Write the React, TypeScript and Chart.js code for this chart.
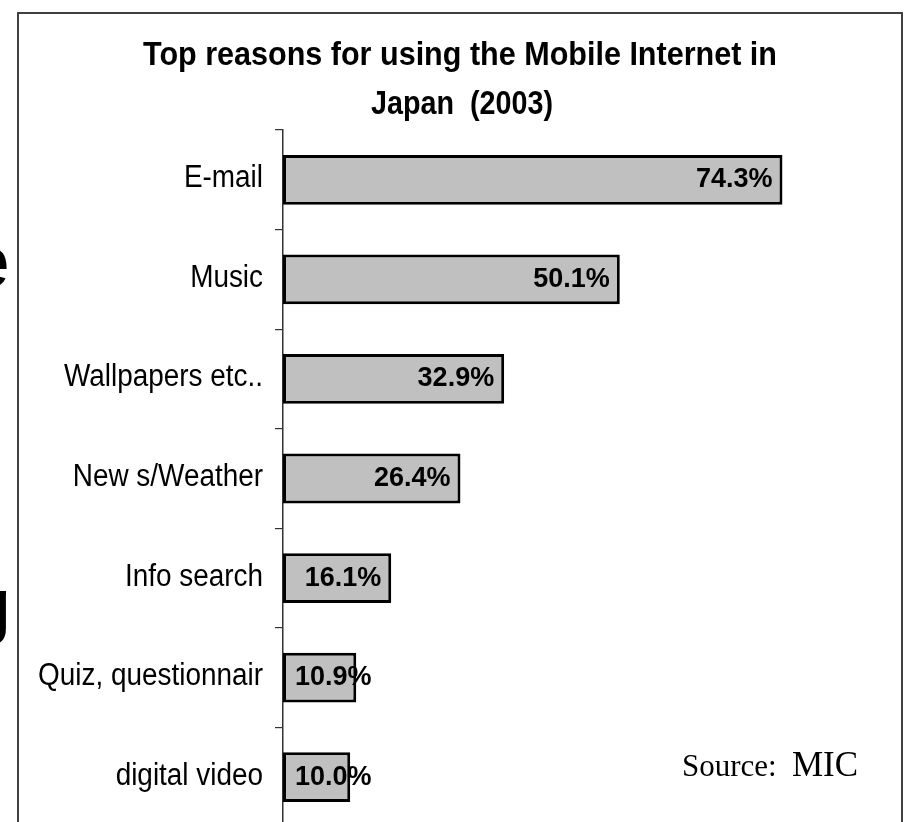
import React, { useEffect, useRef } from 'react';
import { Chart, registerables } from 'chart.js';

Chart.register(...registerables);

const categories = [
  'E-mail',
  'Music',
  'Wallpapers etc..',
  'New s/Weather',
  'Info search',
  'Quiz, questionnair',
  'digital video',
];
const values = [74.3, 50.1, 32.9, 26.4, 16.1, 10.9, 10.0];
const valueLabels = ['74.3%', '50.1%', '32.9%', '26.4%', '16.1%', '10.9%', '10.0%'];
const titleLines = ['Top reasons for using the Mobile Internet in', 'Japan  (2003)'];
const sourceLabel = 'Source:';
const sourceName = 'MIC';
const backdropLetters = ['e', 'g'];

const SANS = '"Liberation Sans", Arial, sans-serif';
const SERIF = '"Liberation Serif", "Times New Roman", serif';

const overlayPlugin = {
  id: 'overlay',
  afterDraw(chart: any) {
    const ctx = chart.ctx as CanvasRenderingContext2D;
    const area = chart.chartArea;
    ctx.save();

    // outer frame
    ctx.strokeStyle = '#404040';
    ctx.lineWidth = 2;
    ctx.strokeRect(18, 13, 884, 900);

    // clipped letters of the slide behind
    ctx.fillStyle = '#000';
    ctx.font = `74px ${SANS}`;
    ctx.textAlign = 'right';
    ctx.textBaseline = 'alphabetic';
    ctx.fillText(backdropLetters[0], 10, 287);
    ctx.fillText(backdropLetters[1], 11, 630);

    // title
    ctx.font = `bold 34px ${SANS}`;
    const titleX = [460, 462];
    const titleY = [65, 114];
    const titleW = [634, 182];
    titleLines.forEach((line, i) => {
      const w = ctx.measureText(line).width;
      ctx.save();
      ctx.translate(titleX[i], titleY[i]);
      ctx.scale(titleW[i] / w, 1);
      ctx.textAlign = 'center';
      ctx.textBaseline = 'alphabetic';
      ctx.fillText(line, 0, 0);
      ctx.restore();
    });

    // category labels
    const yScale = chart.scales.y;
    ctx.font = `31px ${SANS}`;
    categories.forEach((c, i) => {
      const y = yScale.getPixelForValue(i);
      ctx.save();
      ctx.translate(area.left - 20, y - 1);
      ctx.scale(0.9, 1);
      ctx.textAlign = 'right';
      ctx.textBaseline = 'middle';
      ctx.fillText(c, 0, 0);
      ctx.restore();
    });

    // value labels
    const meta = chart.getDatasetMeta(0);
    ctx.font = `bold 27px ${SANS}`;
    ctx.textAlign = 'left';
    ctx.textBaseline = 'middle';
    meta.data.forEach((bar: any, i: number) => {
      const text = valueLabels[i];
      const w = ctx.measureText(text).width;
      let x = bar.x - 10 - w;
      if (x < area.left + 12) x = area.left + 12;
      ctx.fillText(text, x, bar.y);
    });

    // source
    ctx.textAlign = 'left';
    ctx.textBaseline = 'alphabetic';
    ctx.font = `31px ${SERIF}`;
    ctx.fillText(sourceLabel, 682, 776);
    ctx.font = `35px ${SERIF}`;
    ctx.fillText(sourceName, 792, 776);

    ctx.restore();
  },
};

export default function App() {
  const canvasRef = useRef<HTMLCanvasElement | null>(null);

  useEffect(() => {
    document.body.style.margin = '0';
    document.body.style.overflow = 'hidden';
    const canvas = canvasRef.current;
    if (!canvas) return;
    const chart = new Chart(canvas, {
      type: 'bar',
      data: {
        labels: categories,
        datasets: [
          {
            data: values,
            backgroundColor: '#C0C0C0',
            borderColor: '#000000',
            borderWidth: 3,
            borderSkipped: false,
            barPercentage: 0.5,
            categoryPercentage: 1.0,
          },
        ],
      },
      options: {
        indexAxis: 'y',
        responsive: false,
        animation: false,
        devicePixelRatio: 1,
        layout: { padding: { left: 275, top: 130, right: 18, bottom: 13 } },
        plugins: {
          legend: { display: false },
          tooltip: { enabled: false },
        },
        scales: {
          x: { type: 'linear', min: 0, max: 90, display: false },
          y: {
            type: 'category',
            offset: true,
            grid: {
              display: true,
              drawOnChartArea: false,
              drawTicks: true,
              tickLength: 8,
              color: '#333333',
              lineWidth: 1.2,
              offset: true,
            },
            border: { display: true, color: '#333333', width: 1.5 },
            ticks: { display: false },
            afterFit: (s: any) => {
              s.width = 8;
            },
          },
        },
      },
      plugins: [overlayPlugin],
    } as any);
    return () => chart.destroy();
  }, []);

  return (
    <div style={{ width: 906, height: 822, overflow: 'hidden', background: '#fff' }}>
      <canvas ref={canvasRef} width={906} height={840} style={{ display: 'block' }} />
    </div>
  );
}
